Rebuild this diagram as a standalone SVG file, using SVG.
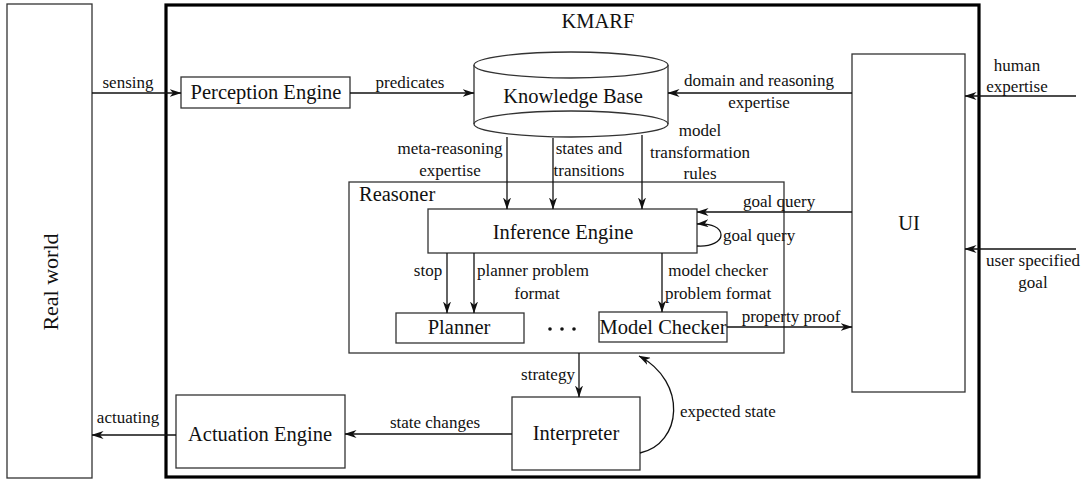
<svg xmlns="http://www.w3.org/2000/svg" width="1086" height="480" viewBox="0 0 1086 480">
<defs>
<style>
.box{fill:#fff;stroke:#333;stroke-width:1.3}
.ln{fill:none;stroke:#111;stroke-width:1.3}
text{font-family:'Liberation Serif','Times New Roman',Times,'DejaVu Serif',serif;fill:#111;text-anchor:middle}
.nt{font-size:20.5px}
.lb{font-size:17px}
.st{text-anchor:start}
</style>
<marker id="ah" viewBox="0 0 12 8" refX="11.5" refY="4" markerWidth="12" markerHeight="8" markerUnits="userSpaceOnUse" orient="auto">
<path d="M0,0 L12,4 L0,8 L3.5,4 z" fill="#111"/>
</marker>
</defs>
<rect width="1086" height="480" fill="#fff"/>

<g id="real-world">
<rect class="box" x="7" y="4" width="85" height="474"/>
<text class="nt" style="font-size:22px" transform="translate(58,282) rotate(-90)">Real world</text>
</g>

<g id="kmarf">
<rect x="166" y="5" width="813" height="472" fill="none" stroke="#000" stroke-width="3.2"/>
<text class="nt" x="598" y="28">KMARF</text>
</g>

<g id="reasoner">
<rect class="box" x="349" y="182" width="435" height="171"/>
<text class="nt st" x="359" y="201">Reasoner</text>
</g>

<g id="perception-engine">
<rect class="box" x="181" y="77" width="169" height="31"/>
<text class="nt" x="266" y="99">Perception Engine</text>
</g>

<g id="knowledge-base">
<path class="box" d="M474,65 L474,124 A97,13 0 0 0 668,124 L668,65"/>
<ellipse class="box" cx="571" cy="65" rx="97" ry="13"/>
<path d="M474,124 A97,13 0 0 1 668,124" fill="none" stroke="#333" stroke-width="1.3"/>
<text class="nt" x="573" y="103">Knowledge Base</text>
</g>

<g id="ui">
<rect class="box" x="852" y="54" width="113" height="338"/>
<text class="nt" x="909" y="230">UI</text>
</g>

<g id="inference-engine">
<rect class="box" x="428" y="209" width="269" height="44"/>
<text class="nt" x="563" y="239">Inference Engine</text>
</g>

<g id="planner">
<rect class="box" x="396" y="313" width="128" height="30"/>
<text class="nt" x="459" y="334">Planner</text>
</g>

<g id="dots">
<circle cx="550" cy="329" r="1.8" fill="#111"/>
<circle cx="562" cy="329" r="1.8" fill="#111"/>
<circle cx="574" cy="329" r="1.8" fill="#111"/>
</g>

<g id="model-checker">
<rect class="box" x="599" y="312" width="128" height="30"/>
<text class="nt" x="663" y="334">Model Checker</text>
</g>

<g id="actuation-engine">
<rect class="box" x="176" y="395" width="169" height="73"/>
<text class="nt" x="260" y="441">Actuation Engine</text>
</g>

<g id="interpreter">
<rect class="box" x="512" y="397" width="128" height="73"/>
<text class="nt" x="576" y="440">Interpreter</text>
</g>

<g id="connectors">
<line class="ln" x1="92" y1="93" x2="181" y2="93" marker-end="url(#ah)"/>
<text class="lb" x="128" y="88">sensing</text>

<line class="ln" x1="350" y1="93" x2="474" y2="93" marker-end="url(#ah)"/>
<text class="lb" x="410" y="88">predicates</text>

<line class="ln" x1="852" y1="93" x2="668" y2="93" marker-end="url(#ah)"/>
<text class="lb" x="759" y="86">domain and reasoning</text>
<text class="lb" x="759" y="108">expertise</text>

<line class="ln" x1="1076" y1="96" x2="965" y2="96" marker-end="url(#ah)"/>
<text class="lb" x="1017" y="71">human</text>
<text class="lb" x="1017" y="92">expertise</text>

<line class="ln" x1="1076" y1="249" x2="965" y2="249" marker-end="url(#ah)"/>
<text class="lb" x="1033" y="266">user specified</text>
<text class="lb" x="1033" y="288">goal</text>

<line class="ln" x1="507" y1="137" x2="507" y2="209" marker-end="url(#ah)"/>
<text class="lb" x="450" y="154">meta-reasoning</text>
<text class="lb" x="450" y="176">expertise</text>

<line class="ln" x1="553" y1="138" x2="553" y2="209" marker-end="url(#ah)"/>
<text class="lb" x="589" y="154">states and</text>
<text class="lb" x="589" y="176">transitions</text>

<line class="ln" x1="642" y1="135" x2="642" y2="209" marker-end="url(#ah)"/>
<text class="lb" x="700" y="136">model</text>
<text class="lb" x="700" y="158">transformation</text>
<text class="lb" x="700" y="179">rules</text>

<line class="ln" x1="852" y1="212" x2="697" y2="212" marker-end="url(#ah)"/>
<text class="lb st" x="743" y="207">goal query</text>

<path class="ln" d="M697,246 C712,247 721,241 721,235 C721,228 712,223 697,224" marker-end="url(#ah)"/>
<text class="lb st" x="723" y="241">goal query</text>

<line class="ln" x1="447" y1="253" x2="447" y2="313" marker-end="url(#ah)"/>
<text class="lb" x="428" y="276">stop</text>

<line class="ln" x1="474" y1="253" x2="474" y2="313" marker-end="url(#ah)"/>
<text class="lb st" x="477" y="276">planner problem</text>
<text class="lb" x="537" y="299">format</text>

<line class="ln" x1="662" y1="253" x2="662" y2="312" marker-end="url(#ah)"/>
<text class="lb" x="718" y="276">model checker</text>
<text class="lb" x="718" y="299">problem format</text>

<line class="ln" x1="727" y1="327" x2="852" y2="327" marker-end="url(#ah)"/>
<text class="lb" x="791" y="322">property proof</text>

<line class="ln" x1="579" y1="353" x2="579" y2="397" marker-end="url(#ah)"/>
<text class="lb" x="548" y="380">strategy</text>

<path class="ln" d="M640,453 C682,444 688,382 639,356" marker-end="url(#ah)"/>
<text class="lb st" x="680" y="417">expected state</text>

<line class="ln" x1="512" y1="434" x2="345" y2="434" marker-end="url(#ah)"/>
<text class="lb" x="435" y="428">state changes</text>

<line class="ln" x1="176" y1="435" x2="92" y2="435" marker-end="url(#ah)"/>
<text class="lb" x="128" y="423">actuating</text>
</g>
</svg>
